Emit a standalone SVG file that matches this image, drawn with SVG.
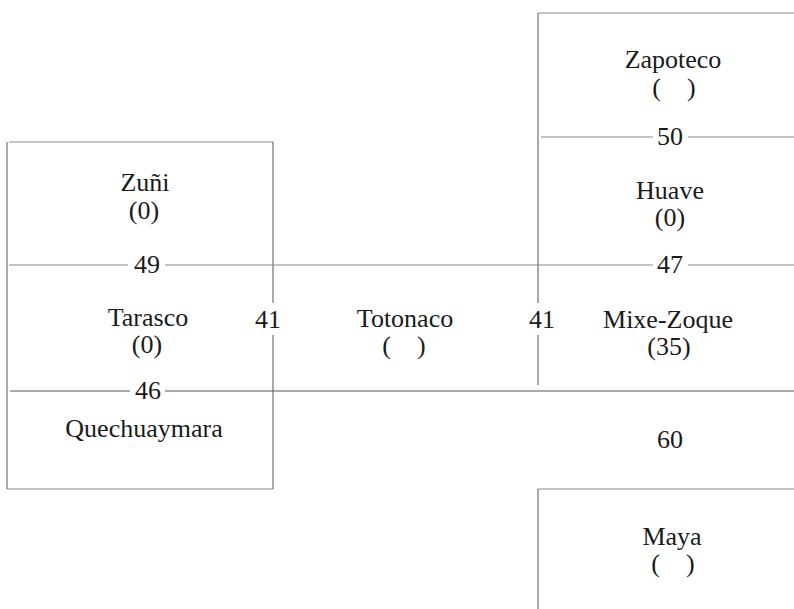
<svg xmlns="http://www.w3.org/2000/svg" width="794" height="609" viewBox="0 0 794 609">
<style>
  text { font-family: "Liberation Serif", "Times New Roman", serif; font-size: 26px; fill: #1a1a1a; text-anchor: middle; }
  .ln { stroke: #555; stroke-width: 1; fill: none; }
  .fa { stroke: #888; stroke-width: 1; fill: none; }
</style>
<rect width="794" height="609" fill="#ffffff"/>
<g id="connectors">
  <!-- left block frame -->
  <line class="fa" x1="9" y1="142" x2="273" y2="142"/>
  <line class="ln" x1="7" y1="142" x2="7" y2="489"/>
  <line class="ln" x1="273" y1="142" x2="273" y2="303"/>
  <line class="ln" x1="273" y1="335" x2="273" y2="489"/>
  <line class="fa" x1="7" y1="489" x2="273" y2="489"/>
  <!-- right upper frame -->
  <line class="ln" x1="538" y1="13" x2="538" y2="303"/>
  <line class="ln" x1="538" y1="335" x2="538" y2="385"/>
  <line class="fa" x1="538" y1="13" x2="794" y2="13"/>
  <line class="fa" x1="541" y1="137" x2="653" y2="137"/>
  <line class="fa" x1="688" y1="137" x2="794" y2="137"/>
  <!-- line 49 / 47 -->
  <line class="fa" x1="9" y1="265" x2="128" y2="265"/>
  <line class="fa" x1="165" y1="265" x2="653" y2="265"/>
  <line class="fa" x1="688" y1="265" x2="794" y2="265"/>
  <!-- line 46 -->
  <line class="ln" x1="10" y1="391" x2="130" y2="391"/>
  <line class="ln" x1="165" y1="391" x2="794" y2="391"/>
  <!-- Maya frame -->
  <line class="fa" x1="538" y1="489" x2="794" y2="489"/>
  <line class="ln" x1="538" y1="489" x2="538" y2="609"/>
  <!-- labels -->
  <text x="147" y="273">49</text>
  <text x="148" y="399">46</text>
  <text x="268" y="328">41</text>
  <text x="542" y="328">41</text>
  <text x="670" y="145">50</text>
  <text x="670" y="273">47</text>
  <text x="670" y="448">60</text>
</g>
<g id="zuni">
  <text x="145" y="191">Zuñi</text>
  <text x="144" y="219">(0)</text>
</g>
<g id="tarasco">
  <text x="148" y="326">Tarasco</text>
  <text x="147" y="353">(0)</text>
</g>
<g id="quechuaymara">
  <text x="144" y="437">Quechuaymara</text>
</g>
<g id="totonaco">
  <text x="405" y="327">Totonaco</text>
  <text x="404" y="354">(&#160;&#160;&#160;&#160;)</text>
</g>
<g id="zapoteco">
  <text x="673" y="68">Zapoteco</text>
  <text x="674" y="96">(&#160;&#160;&#160;&#160;)</text>
</g>
<g id="huave">
  <text x="670" y="199">Huave</text>
  <text x="670" y="226">(0)</text>
</g>
<g id="mixe-zoque">
  <text x="668" y="328">Mixe-Zoque</text>
  <text x="669" y="355">(35)</text>
</g>
<g id="maya">
  <text x="672" y="545">Maya</text>
  <text x="673" y="572">(&#160;&#160;&#160;&#160;)</text>
</g>
</svg>
